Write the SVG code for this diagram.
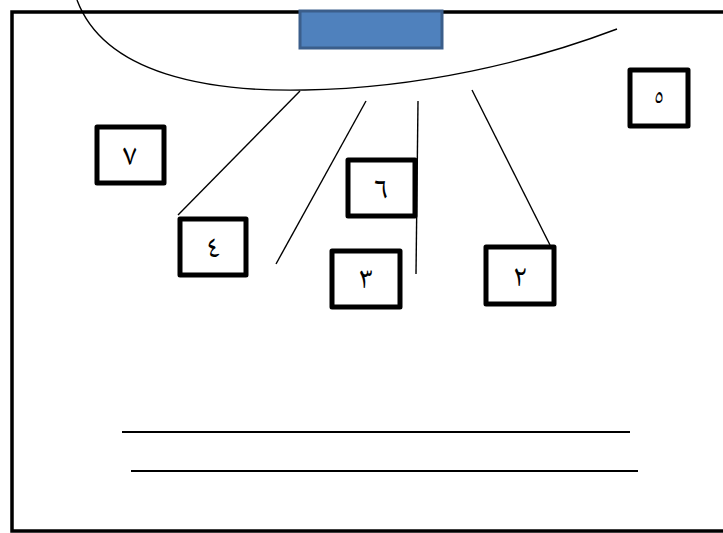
<svg xmlns="http://www.w3.org/2000/svg" width="723" height="533" viewBox="0 0 723 533">
<style>
.box{fill:#fff;stroke:#000;stroke-width:5;stroke-linejoin:round}
.lbl{font-family:"Noto Naskh Arabic","Noto Sans Arabic","Amiri","DejaVu Sans",sans-serif;font-size:31px;text-anchor:middle;fill:#000}
.ln{stroke:#000;stroke-width:1.4;fill:none}
</style>
<rect x="12" y="12" width="730" height="519" fill="#fff" stroke="#000" stroke-width="3.5"/>
<g id="curve"><path class="ln" d="M77,0 C105,75 210,92 305,90 C420,88 530,62 617,29"/></g>
<g id="blue"><rect x="300" y="11" width="142" height="37" fill="#4f81bd" stroke="#3b5e8b" stroke-width="3"/></g>
<g id="connectors">
<line class="ln" x1="300" y1="91" x2="178" y2="215"/>
<line class="ln" x1="366" y1="101" x2="276" y2="264"/>
<line class="ln" x1="418" y1="101" x2="416" y2="274"/>
<line class="ln" x1="472" y1="90" x2="550" y2="245"/>
</g>
<g id="n7"><rect class="box" x="97" y="127" width="67" height="56"/><text class="lbl" x="130" y="165">٧</text></g>
<g id="n4"><rect class="box" x="180" y="219" width="66" height="56"/><text class="lbl" x="213" y="257">٤</text></g>
<g id="n6"><rect class="box" x="348" y="160" width="67" height="56"/><text class="lbl" x="381" y="199">٦</text></g>
<g id="n3"><rect class="box" x="332" y="251" width="68" height="56"/><text class="lbl" x="366" y="288">٣</text></g>
<g id="n2"><rect class="box" x="486" y="247" width="68" height="57"/><text class="lbl" x="520" y="286">٢</text></g>
<g id="n5"><rect class="box" x="630" y="70" width="58" height="56"/><text class="lbl" x="659" y="104" style="font-size:24px">٥</text></g>
<g id="lines">
<line x1="122" y1="432" x2="630" y2="432" stroke="#000" stroke-width="2"/>
<line x1="131" y1="471" x2="638" y2="471" stroke="#000" stroke-width="2"/>
</g>
</svg>
